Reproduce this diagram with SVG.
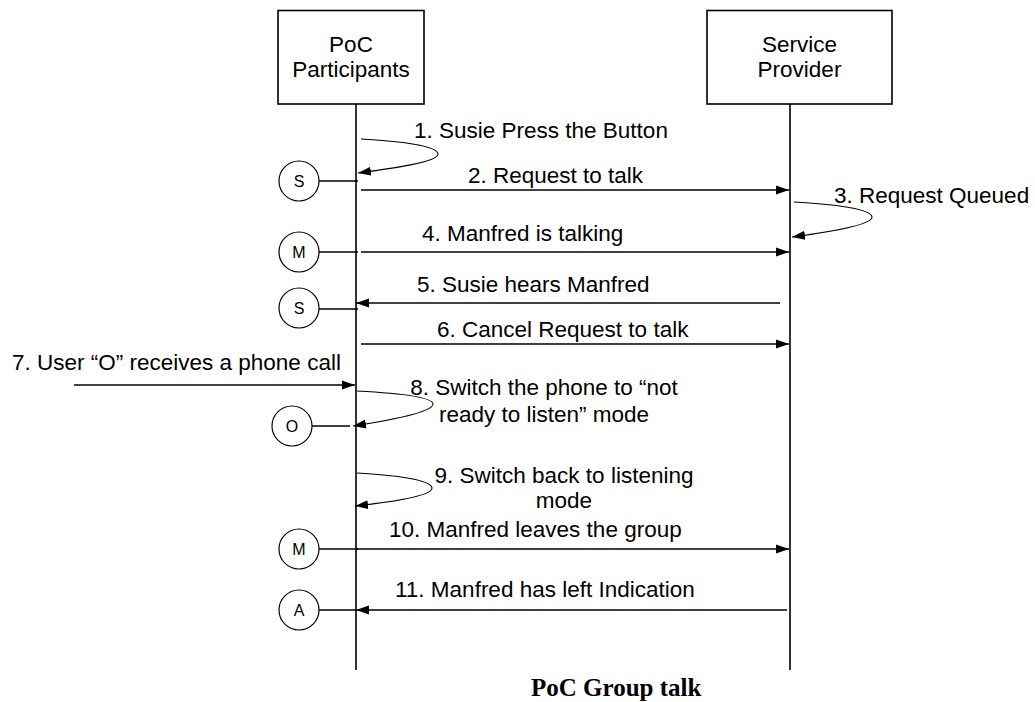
<svg xmlns="http://www.w3.org/2000/svg" width="1035" height="702" viewBox="0 0 1035 702">
  <style>
    .box { fill: #fff; stroke: #000; stroke-width: 1.6; }
    .life { stroke: #000; stroke-width: 1.6; fill: none; }
    .msg { stroke: #000; stroke-width: 1.5; fill: none; }
    .loop { stroke: #000; stroke-width: 1.1; fill: none; }
    .circ { fill: #fff; stroke: #000; stroke-width: 1.2; }
    .t { font-family: "Liberation Sans", Arial, sans-serif; font-size: 22.5px; fill: #000; }
    .c { font-family: "Liberation Sans", Arial, sans-serif; font-size: 16px; fill: #000; text-anchor: middle; }
    .cap { font-family: "Liberation Serif", "Times New Roman", serif; font-size: 25px; font-weight: bold; fill: #000; }
  </style>
  <defs>
    <marker id="ah" markerUnits="userSpaceOnUse" markerWidth="14" markerHeight="10" refX="13" refY="5" orient="auto">
      <path d="M0,0.5 L13,5 L0,9.5 Z" fill="#000"/>
    </marker>
  </defs>
  <rect width="1035" height="702" fill="#fff"/>

  <g id="participants">
    <rect class="box" x="278" y="10.5" width="146" height="93.5"/>
    <text class="t" x="351" y="52" text-anchor="middle">PoC</text>
    <text class="t" x="351" y="77" text-anchor="middle">Participants</text>
  </g>
  <g id="provider">
    <rect class="box" x="707" y="10.5" width="185" height="93.5"/>
    <text class="t" x="799.5" y="52" text-anchor="middle">Service</text>
    <text class="t" x="799.5" y="77" text-anchor="middle">Provider</text>
  </g>

  <g id="circle-s1"><circle class="circ" cx="299" cy="181" r="20"/><text class="c" x="299" y="187">S</text></g>
  <g id="circle-m1"><circle class="circ" cx="299" cy="252" r="20"/><text class="c" x="299" y="258">M</text></g>
  <g id="circle-s2"><circle class="circ" cx="299" cy="308" r="20"/><text class="c" x="299" y="314">S</text></g>
  <g id="circle-o"><circle class="circ" cx="292" cy="426" r="20"/><text class="c" x="292" y="432">O</text></g>
  <g id="circle-m2"><circle class="circ" cx="299" cy="549" r="20"/><text class="c" x="299" y="555">M</text></g>
  <g id="circle-a"><circle class="circ" cx="299" cy="610" r="20"/><text class="c" x="299" y="616">A</text></g>

  <g id="connectors">
    <line class="life" x1="356" y1="104" x2="356" y2="670"/>
    <line class="life" x1="790" y1="104" x2="790" y2="670"/>

    <line class="msg" x1="319" y1="181" x2="358" y2="181"/>
    <line class="msg" x1="319" y1="252" x2="358" y2="252"/>
    <line class="msg" x1="319" y1="309" x2="358" y2="309"/>
    <line class="msg" x1="312" y1="426" x2="350" y2="426"/>
    <line class="msg" x1="319" y1="549" x2="358" y2="549"/>
    <line class="msg" x1="319" y1="610" x2="356" y2="610"/>

    <path class="loop" d="M361,139 C400,141 438,146 438,154 C438,162 395,168 358,173" marker-end="url(#ah)"/>
    <line class="msg" x1="361" y1="190" x2="789" y2="190" marker-end="url(#ah)"/>
    <path class="loop" d="M794,202 C833,204 872,209 872,217 C872,225 830,232 792,237" marker-end="url(#ah)"/>
    <line class="msg" x1="361" y1="252" x2="789" y2="252" marker-end="url(#ah)"/>
    <line class="msg" x1="780" y1="303" x2="356" y2="303" marker-end="url(#ah)"/>
    <line class="msg" x1="361" y1="344" x2="789" y2="344" marker-end="url(#ah)"/>
    <line class="msg" x1="74" y1="385" x2="355" y2="385" marker-end="url(#ah)"/>
    <path class="loop" d="M357,391 C395,393 433,397 433,404 C433,412 392,420 353,426" marker-end="url(#ah)"/>
    <path class="loop" d="M357,473 C395,475 432,480 432,488 C432,496 392,502 355,506" marker-end="url(#ah)"/>
    <line class="msg" x1="356" y1="549" x2="789" y2="549" marker-end="url(#ah)"/>
    <line class="msg" x1="787" y1="610" x2="356" y2="610" marker-end="url(#ah)"/>
  </g>

  <g id="labels">
    <text class="t" x="414" y="138">1. Susie Press the Button</text>
    <text class="t" x="468" y="183">2. Request to talk</text>
    <text class="t" x="834" y="203">3. Request Queued</text>
    <text class="t" x="422" y="241">4. Manfred is talking</text>
    <text class="t" x="417" y="292">5. Susie hears Manfred</text>
    <text class="t" x="437" y="337">6. Cancel Request to talk</text>
    <text class="t" x="12" y="370">7. User “O” receives a phone call</text>
    <text class="t" x="544" y="395" text-anchor="middle">8. Switch the phone to “not</text>
    <text class="t" x="544" y="422" text-anchor="middle">ready to listen” mode</text>
    <text class="t" x="564" y="483" text-anchor="middle">9. Switch back to listening</text>
    <text class="t" x="564" y="508" text-anchor="middle">mode</text>
    <text class="t" x="389" y="537">10. Manfred leaves the group</text>
    <text class="t" x="395" y="597">11. Manfred has left Indication</text>
    <text class="cap" x="531" y="696">PoC Group talk</text>
  </g>
</svg>
